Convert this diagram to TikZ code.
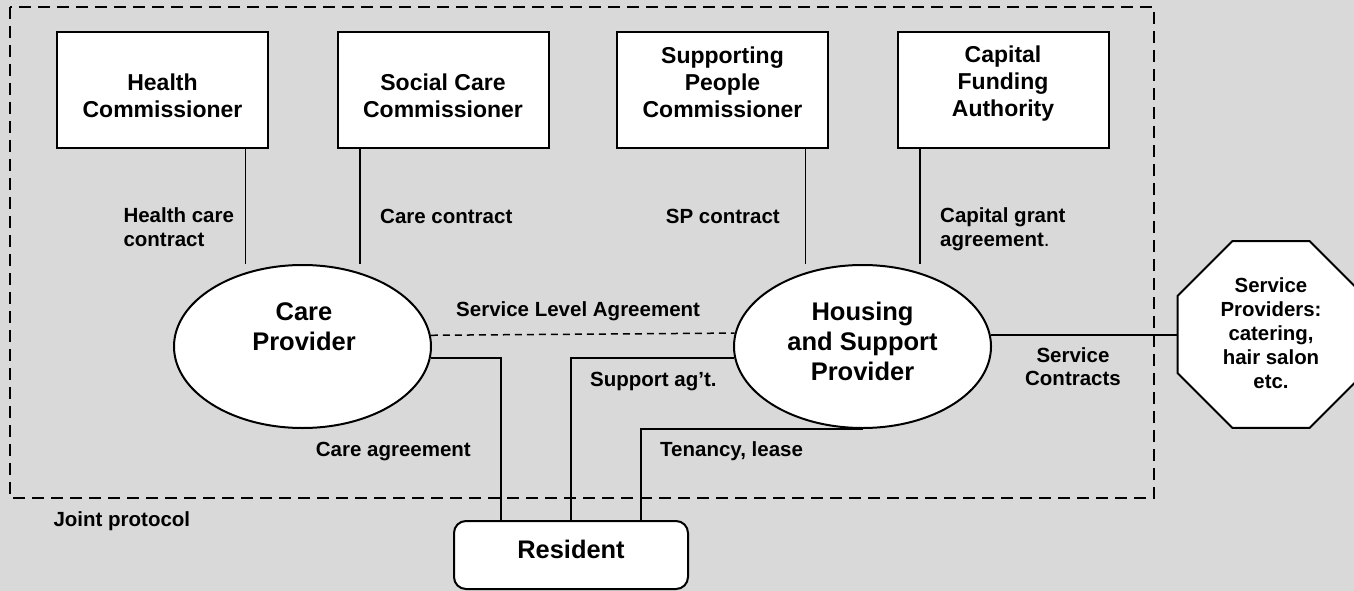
\documentclass[tikz,border=0pt]{standalone}
\usepackage{fontspec}
\setmainfont{Liberation Sans}
\usepackage{tikz}
\usetikzlibrary{positioning,calc,shapes.geometric}

\definecolor{bggray}{RGB}{217,217,217}

\tikzset{
  comm/.style={draw,line width=2pt,fill=white,minimum width=211pt,
    minimum height=116pt,inner sep=0pt},
  commtext/.style={font=\fontsize{23}{26.7}\selectfont\bfseries,
    align=center,inner sep=0pt,anchor=north},
  prov/.style={ellipse,draw,line width=2pt,fill=white,minimum width=257pt,
    minimum height=163pt,inner sep=0pt},
  provtext/.style={font=\fontsize{25.5}{30}\selectfont\bfseries,
    align=center,inner sep=0pt,anchor=north},
  octo/.style={regular polygon,regular polygon sides=8,draw,line width=2pt,
    fill=white,minimum size=202pt,inner sep=0pt},
  octotext/.style={font=\fontsize{20.4}{23.8}\selectfont\bfseries,
    align=center,inner sep=0pt,anchor=north},
  resbox/.style={draw,line width=2pt,fill=white,rounded corners=12pt,
    minimum width=234pt,minimum height=68pt,inner sep=0pt},
  lbl/.style={font=\fontsize{20.5}{23.6}\selectfont\bfseries,
    align=left,inner sep=0pt},
  link/.style={line width=1.6pt},
  slaline/.style={line width=1.5pt,dash pattern=on 7pt off 5pt},
  jointline/.style={line width=2.3pt,dash pattern=on 12pt off 7pt}
}

\begin{document}
\begin{tikzpicture}[x=1pt,y=-1pt]
  \fill[bggray] (0,0) rectangle (1354,591);
  \useasboundingbox (0,0) rectangle (1354,591);
  \clip (0,0) rectangle (1354,591);

  % joint protocol boundary
  \draw[jointline] (10,7) rectangle (1154,498);

  % commissioners
  \node[comm] (hc)  at (162.5,90) {};
  \node[comm] (scc) at (443,90)   {};
  \node[comm] (spc) at (722.5,90) {};
  \node[comm] (cfa) at (1003,90)  {};
  \node[commtext] (hc-txt)  at (162.5,74) {Health\\Commissioner};
  \node[commtext] (scc-txt) at (443,74)   {Social Care\\Commissioner};
  \node[commtext] (spc-txt) at (722.5,47) {Supporting\\People\\Commissioner};
  \node[commtext] (cfa-txt) at (1003,46)  {Capital\\Funding\\Authority};

  % providers
  \node[prov] (cp)  at (302.5,346.5) {};
  \node[prov] (hsp) at (862.5,346.5) {};
  \node[provtext] (cp-txt)  at (304,302)   {Care\\Provider};
  \node[provtext] (hsp-txt) at (862.5,301.5) {Housing\\and Support\\Provider};

  \node[octo] (sp) at (1271,334.5) {};
  \node[octotext] (sp-txt) at (1271,278)
    {Service\\Providers:\\catering,\\hair salon\\etc.};

  \node[resbox] (res) at (571,555) {};
  \node[font=\fontsize{25.4}{30}\selectfont\bfseries,inner sep=0pt,anchor=base]
    (res-txt) at (571,558.7) {Resident};

  % contracts from commissioners
  \draw[link] (hc.south east) ++(-23.5,0) coordinate (hc-a) -- (hc-a |- cp.north);
  \draw[link] (scc.south west) ++(23.5,0) coordinate (scc-a) -- (scc-a |- cp.north);
  \draw[link] (spc.south east) ++(-23.5,0) coordinate (spc-a) -- (spc-a |- hsp.north);
  \draw[link] (cfa.south west) ++(23.5,0) coordinate (cfa-a) -- (cfa-a |- hsp.north);

  % agreements
  \draw[slaline] (cp.5.4) -- (hsp.174.6);
  \draw[link] (cp.-5.4) -| ([xshift=-70pt]res.north);
  \draw[link] (hsp.185.4) -| (res.north);
  \draw[link] (hsp.south) -| ([xshift=70pt]res.north);
  \draw[link] (hsp.5.4) -- (hsp.5.4 -| sp.west);

  % labels
  \node[lbl,anchor=north west] (hc-lbl) at (123.3,207.7) {Health care\\contract};
  \node[lbl,anchor=base west] (scc-lbl) at (380,223) {Care contract};
  \node[lbl,anchor=base west] (spc-lbl) at (665.7,223) {SP contract};
  \node[lbl,anchor=north west] (cfa-lbl) at (940,207.7)
    {Capital grant\\agreement{\mdseries.}};
  \node[lbl,anchor=base west] (sla-lbl) at (456,316) {Service Level Agreement};
  \node[lbl,anchor=base west] (ca-lbl) at (315.7,456.7) {Care agreement};
  \node[lbl,anchor=base west] (sa-lbl) at (590,386.7) {Support ag’t.};
  \node[lbl,anchor=base west] (tl-lbl) at (660,456.7) {Tenancy, lease};
  \node[lbl,anchor=north,align=center] (sc-lbl) at (1073,347) {Service\\Contracts};
  \node[lbl,anchor=base west] (jp-lbl) at (53.3,526.7) {Joint protocol};
\end{tikzpicture}
\end{document}
